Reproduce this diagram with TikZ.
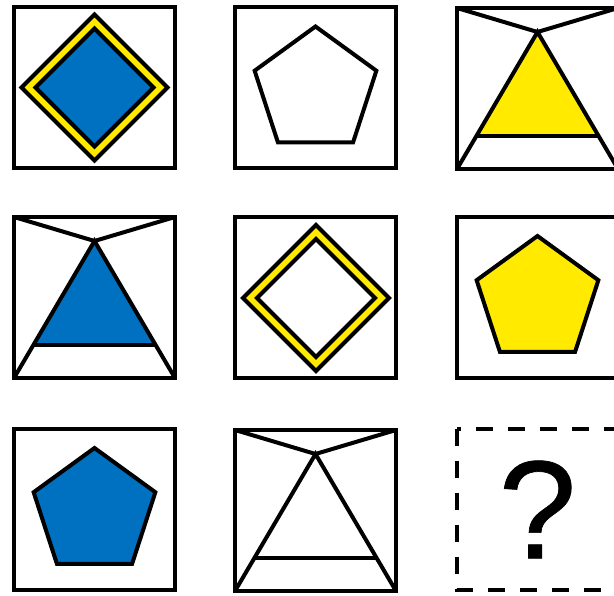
\documentclass[tikz,border=0pt]{standalone}
\usepackage{fontspec}
\setmainfont{Liberation Sans}
\newfontfamily\qfont[FakeBold=0.5]{Liberation Sans}
\definecolor{pblue}{RGB}{0,112,192}
\definecolor{pyellow}{RGB}{255,234,0}
\tikzset{
  frame/.style={draw=black, line width=4.5pt},
  dframe/.style={draw=black, line width=4.5pt, dash pattern=on 17pt off 15pt},
  outl/.style={draw=black, line width=4pt, line join=miter},
}
\newcommand{\TriFig}[3]{%
  \coordinate (tl) at (#1,#2);
  \coordinate (tr) at (#1+161,#2);
  \coordinate (bl) at (#1,#2+161);
  \coordinate (br) at (#1+161,#2+161);
  \coordinate (ap) at (#1+80.5,#2+24);
  \coordinate (b1) at ($(ap)!{104/137}!(bl)$);
  \coordinate (b2) at ($(ap)!{104/137}!(br)$);
  \fill[#3] (ap) -- (b1) -- (b2) -- cycle;
  \draw[outl] (tl) -- (ap) -- (tr);
  \draw[outl] (bl) -- (ap) -- (br);
  \draw[outl] (b1) -- (b2);
  \draw[frame] (tl) rectangle (br);
}
\newcommand{\PentFig}[3]{%
  \draw[outl, fill=#3] (#1+64*cos 90,#2-64*sin 90)
    -- (#1+64*cos 162,#2-64*sin 162)
    -- (#1+64*cos 234,#2-64*sin 234)
    -- (#1+64*cos 306,#2-64*sin 306)
    -- (#1+64*cos 18,#2-64*sin 18) -- cycle;
}
\newcommand{\DiamFig}[3]{%
  \draw[outl, fill=pyellow] (#1,#2-73) -- (#1+73,#2) -- (#1,#2+73) -- (#1-73,#2) -- cycle;
  \draw[outl, fill=#3] (#1,#2-59) -- (#1+59,#2) -- (#1,#2+59) -- (#1-59,#2) -- cycle;
}
\usetikzlibrary{calc}
\begin{document}
\begin{tikzpicture}[x=1pt, y=-1pt]
  \useasboundingbox (0,0) rectangle (614,596);
  \clip (0,0) rectangle (614,596);
  \fill[white] (0,0) rectangle (614,596);
  % row 1
  \draw[frame] (14,7) rectangle ++(161,161);
  \DiamFig{94.5}{87.5}{pblue}
  \draw[frame] (235,7) rectangle ++(161,161);
  \PentFig{315.5}{90.5}{white}
  \TriFig{457}{8}{pyellow}
  % row 2
  \TriFig{14}{217}{pblue}
  \draw[frame] (235,217) rectangle ++(161,161);
  \DiamFig{316}{298}{white}
  \draw[frame] (457,217) rectangle ++(161,161);
  \PentFig{537.5}{300}{pyellow}
  % row 3
  \draw[frame] (14,429) rectangle ++(161,161);
  \PentFig{94.5}{512}{pblue}
  \TriFig{235}{430}{white}
  \draw[dframe] (457,429) rectangle ++(161,161);
  \node[inner sep=0pt, font=\qfont\fontsize{140}{140}\selectfont] (q) at (537.5,509.5) {?};
\end{tikzpicture}
\end{document}
